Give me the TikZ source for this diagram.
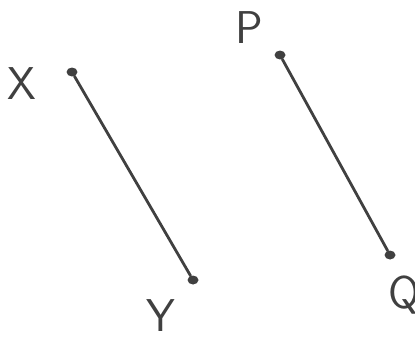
\documentclass[tikz,border=0pt]{standalone}
\usepackage{fontspec}
\usetikzlibrary{shapes.geometric}
\setmainfont{DejaVu Sans}
\definecolor{pen}{HTML}{404040}
\begin{document}
\begin{tikzpicture}[x=1pt,y=-1pt,
  seg/.style={draw=pen,line width=2.8pt,line cap=round},
  endpt/.style={ellipse,fill=pen,inner sep=0pt,minimum width=11pt,minimum height=9pt},
  lbl/.style={text=pen,font=\fontsize{46}{46}\selectfont\sffamily,inner sep=0pt}]
\useasboundingbox (0,0) rectangle (415,343);
\node[endpt] (X) at (72,72) {};
\node[endpt] (Y) at (193,280) {};
\node[endpt] (P) at (280,55) {};
\node[endpt] (Q) at (390,255) {};
\draw[seg] (X) -- (Y);
\draw[seg] (P) -- (Q);
\node[lbl] (lx) at (22,84) {X};
\node[lbl] (ly) at (161,316) {Y};
\node[lbl] (lp) at (249,28) {P};
\node[lbl] (lq) at (404,295) {Q};
\end{tikzpicture}
\end{document}
